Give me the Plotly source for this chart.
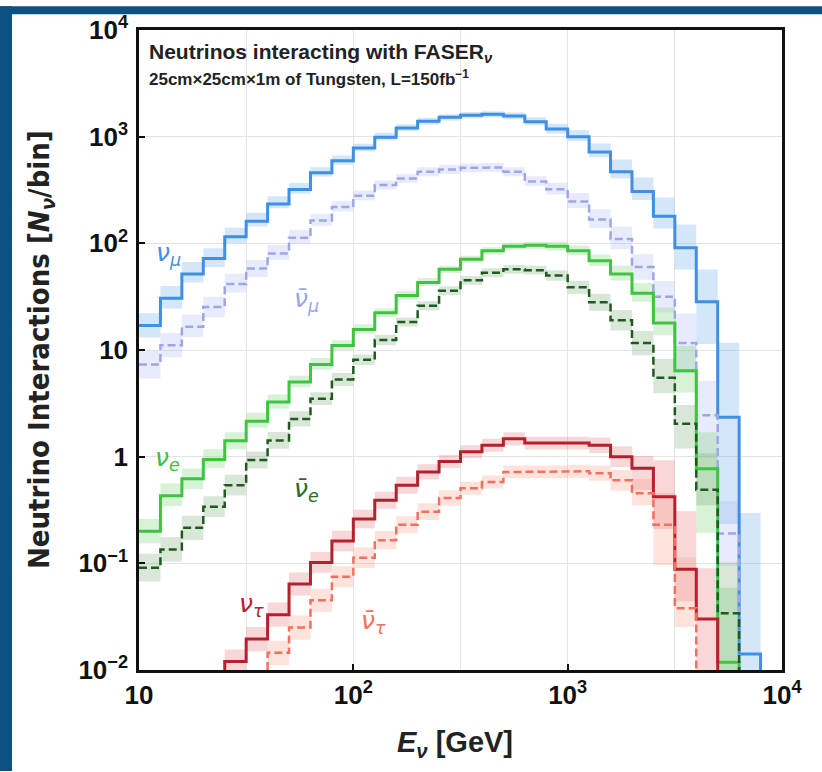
import plotly.graph_objects as go

# ---------------- data ----------------
# log-spaced energy bins: 10 per decade from 10 GeV to 10^4 GeV
bin_edges = [10 ** (1 + k / 10) for k in range(31)]

nu_mu = [17, 30.6, 51.5, 72, 115, 161, 234, 320, 458, 593,
         782, 988, 1208, 1394, 1517, 1590, 1620, 1560, 1380, 1180,
         1000, 718, 469, 306, 179, 91, 28.4, 2.34, 0.0141, None]
nu_mu_up = [1.3, 1.3, 1.3, 1.25, 1.22, 1.2, 1.18, 1.15, 1.13, 1.12,
            1.1, 1.1, 1.08, 1.08, 1.07, 1.07, 1.07, 1.08, 1.1, 1.12,
            1.15, 1.2, 1.3, 1.35, 1.5, 1.65, 2.0, 5.0, 21, None]
nu_mu_dn = [1.3, 1.25, 1.2, 1.2, 1.15, 1.12, 1.1, 1.1, 1.08, 1.08,
            1.07, 1.07, 1.07, 1.07, 1.07, 1.07, 1.07, 1.07, 1.08, 1.1,
            1.1, 1.12, 1.15, 1.2, 1.3, 1.6, 2.5, 10, 2, None]

nubar_mu = [7.3, 11.1, 16.5, 25.3, 41.6, 58, 80.5, 113, 164, 219,
            279, 352, 406, 469, 492, 510, 515, 469, 379, 321,
            247, 167, 110, 60, 31.6, 11.6, 2.44, 0.19, None, None]
nubar_mu_up = [1.35, 1.3, 1.3, 1.25, 1.25, 1.2, 1.2, 1.18, 1.15, 1.13,
               1.12, 1.1, 1.1, 1.1, 1.1, 1.1, 1.1, 1.1, 1.12, 1.15,
               1.2, 1.25, 1.3, 1.32, 1.4, 1.9, 2.1, 2.0, None, None]
nubar_mu_dn = [1.35, 1.3, 1.25, 1.25, 1.2, 1.2, 1.15, 1.15, 1.12, 1.1,
               1.1, 1.1, 1.1, 1.1, 1.1, 1.1, 1.1, 1.1, 1.1, 1.12,
               1.15, 1.2, 1.25, 1.32, 1.4, 1.9, 2.5, 2.0, None, None]

nu_e = [0.20, 0.43, 0.62, 0.94, 1.41, 2.15, 3.25, 5.0, 7.3, 11.0,
        15.6, 22.4, 32.5, 43, 57, 71, 85, 94, 96, 94,
        85, 68.5, 51.5, 34, 17.9, 6.4, 0.77, 0.0118, None, None]
nu_e_up = [1.3, 1.3, 1.25, 1.25, 1.2, 1.2, 1.18, 1.15, 1.15, 1.12,
           1.12, 1.1, 1.1, 1.1, 1.08, 1.08, 1.08, 1.08, 1.08, 1.1,
           1.12, 1.15, 1.2, 1.25, 1.4, 1.7, 2.2, 5, None, None]
nu_e_dn = [1.3, 1.25, 1.25, 1.2, 1.2, 1.15, 1.15, 1.12, 1.12, 1.1,
           1.1, 1.1, 1.1, 1.08, 1.08, 1.08, 1.08, 1.08, 1.08, 1.1,
           1.1, 1.12, 1.15, 1.2, 1.3, 1.6, 4.0, 2, None, None]

nubar_e = [0.091, 0.135, 0.215, 0.34, 0.54, 0.93, 1.42, 2.26, 3.5, 5.3,
           8.1, 12.4, 18.3, 26, 36, 45, 53, 57, 56, 50,
           38.7, 28, 19, 11.6, 5.5, 2.03, 0.49, 0.034, None, None]
nubar_e_up = [1.35, 1.3, 1.3, 1.25, 1.25, 1.2, 1.2, 1.18, 1.15, 1.15,
              1.12, 1.12, 1.1, 1.1, 1.1, 1.1, 1.1, 1.1, 1.1, 1.12,
              1.15, 1.2, 1.25, 1.3, 1.5, 1.5, 2.2, 3, None, None]
nubar_e_dn = [1.35, 1.3, 1.3, 1.25, 1.25, 1.2, 1.2, 1.18, 1.15, 1.15,
              1.12, 1.12, 1.1, 1.1, 1.1, 1.1, 1.1, 1.1, 1.1, 1.12,
              1.15, 1.2, 1.25, 1.3, 1.4, 1.7, 1.4, 3.4, None, None]

nu_tau = [None, None, None, None, 0.012, 0.0195, 0.033, 0.064, 0.102, 0.162,
          0.26, 0.39, 0.54, 0.72, 0.9, 1.11, 1.28, 1.47, 1.34, 1.34,
          1.34, 1.28, 1.0, 0.78, 0.42, 0.088, 0.030, None, None, None]
nu_tau_up = [None, None, None, None, 1.3, 1.3, 1.3, 1.28, 1.25, 1.25,
             1.22, 1.2, 1.2, 1.18, 1.15, 1.15, 1.15, 1.15, 1.15, 1.15,
             1.15, 1.18, 1.25, 1.3, 2.2, 3.5, 3.0, None, None, None]
nu_tau_dn = [None, None, None, None, 1.3, 1.3, 1.3, 1.28, 1.25, 1.25,
             1.22, 1.2, 1.2, 1.18, 1.15, 1.15, 1.15, 1.15, 1.15, 1.15,
             1.15, 1.18, 1.25, 1.6, 2.0, 2.0, 3.0, None, None, None]

nubar_tau = [None, None, None, None, None, None, 0.0145, 0.025, 0.045, 0.075,
             0.113, 0.165, 0.23, 0.305, 0.41, 0.506, 0.58, 0.72, 0.72, 0.72,
             0.73, 0.70, 0.60, 0.455, 0.23, 0.038, None, None, None, None]
nubar_tau_up = [None, None, None, None, None, None, 1.3, 1.3, 1.28, 1.25,
                1.25, 1.22, 1.2, 1.2, 1.18, 1.15, 1.15, 1.15, 1.15, 1.15,
                1.15, 1.18, 1.25, 1.35, 2.0, 3.0, None, None, None, None]
nubar_tau_dn = [None, None, None, None, None, None, 1.3, 1.3, 1.28, 1.25,
                1.25, 1.22, 1.2, 1.2, 1.18, 1.15, 1.15, 1.15, 1.15, 1.15,
                1.15, 1.18, 1.25, 1.3, 2.4, 1.5, None, None, None, None]

x_tick_vals = [10, 100, 1000, 10000]
x_tick_text = ["10", "10<sup>2</sup>", "10<sup>3</sup>", "10<sup>4</sup>"]
x_minor_vals = [10 ** 1.5, 10 ** 2.5, 10 ** 3.5]
y_tick_vals = [1e-2, 1e-1, 1, 10, 100, 1000, 10000]
y_tick_text = ["10<sup>−2</sup>", "10<sup>−1</sup>", "1", "10",
               "10<sup>2</sup>", "10<sup>3</sup>", "10<sup>4</sup>"]
Y_MIN, Y_MAX = -2, 4   # log10 axis range
X_MIN, X_MAX = 1, 4

# ---------------- styling ----------------
series = [
    # name, values, up, dn, line colour, band colour, dash, width
    ("numu", nu_mu, nu_mu_up, nu_mu_dn, "#3f8fe3", "rgba(120,180,240,0.33)", "solid", 3),
    ("numubar", nubar_mu, nubar_mu_up, nubar_mu_dn, "#9ea6e6", "rgba(170,180,240,0.27)", "8px,4px", 2.5),
    ("nue", nu_e, nu_e_up, nu_e_dn, "#3fc43f", "rgba(110,210,110,0.28)", "solid", 3),
    ("nuebar", nubar_e, nubar_e_up, nubar_e_dn, "#1f5a1f", "rgba(120,170,120,0.28)", "8px,4px", 2.5),
    ("nutau", nu_tau, nu_tau_up, nu_tau_dn, "#b5202e", "rgba(225,110,110,0.28)", "solid", 3),
    ("nutaubar", nubar_tau, nubar_tau_up, nubar_tau_dn, "#f2705f", "rgba(250,150,130,0.27)", "8px,4px", 2.5),
]

W, H = 822, 772
L, R, T, B = 139, 40, 24, 102
BG_BLUE = "#0b5283"
pw, ph = W - L - R, H - T - B

fig = go.Figure()

# uncertainty bands (one rectangle per bin)
for name, vals, up, dn, lc, bc, dash, w in series:
    bx, by = [], []
    for i, v in enumerate(vals):
        if v is None or up[i] is None:
            continue
        lo, hi = v / dn[i], v * up[i]
        l, r = bin_edges[i], bin_edges[i + 1]
        bx += [l, r, r, l, l, None]
        by += [lo, lo, hi, hi, lo, None]
    fig.add_trace(go.Scatter(x=bx, y=by, mode="lines", fill="toself",
                             fillcolor=bc, line=dict(width=0),
                             hoverinfo="skip", showlegend=False))

# step histograms
floor = 10 ** Y_MIN
for name, vals, up, dn, lc, bc, dash, w in series:
    sx, sy = [], []
    for i, v in enumerate(vals):
        if v is None:
            if sx and sx[-1] is not None:
                sx.append(bin_edges[i]); sy.append(floor)
                sx.append(None); sy.append(None)
            continue
        if (not sx or sx[-1] is None) and i > 0:
            sx.append(bin_edges[i]); sy.append(floor)
        sx += [bin_edges[i], bin_edges[i + 1]]
        sy += [v, v]
    fig.add_trace(go.Scatter(x=sx, y=sy, mode="lines",
                             line=dict(color=lc, width=w, dash=dash),
                             hoverinfo="skip", showlegend=False))

# page background: white sheet with dark slide frame strips on the left and top
fig.add_shape(type="rect", xref="paper", yref="paper", layer="below",
              x0=(0 - L) / pw, x1=(W + 20 - L) / pw,
              y0=(H - B - H - 20) / ph, y1=(H - B) / ph,
              fillcolor="white", line=dict(width=0))
fig.add_shape(type="rect", xref="paper", yref="paper", layer="below",
              x0=(0 - L) / pw, x1=(12 - L) / pw,
              y0=(H - B - H) / ph, y1=(H - B) / ph,
              fillcolor=BG_BLUE, line=dict(width=0))
fig.add_shape(type="rect", xref="paper", yref="paper", layer="below",
              x0=(0 - L) / pw, x1=(W - L) / pw,
              y0=(H - B - 8) / ph, y1=(H - B) / ph,
              fillcolor=BG_BLUE, line=dict(width=0))

font_main = "Liberation Sans, Arial, sans-serif"
font_lab = "DejaVu Sans, Liberation Sans, sans-serif"

# curve labels
labels = [
    ("ν<sub>μ</sub>", 1.136, 1.90, "#4a8fdc"),
    ("ν̄<sub>μ</sub>", 1.78, 1.465, "#9ea6e6"),
    ("ν<sub>e</sub>", 1.131, -0.02, "#3fbf3f"),
    ("ν̄<sub>e</sub>", 1.78, -0.308, "#2a6a2a"),
    ("ν<sub>τ</sub>", 1.523, -1.394, "#b5202e"),
    ("ν̄<sub>τ</sub>", 2.093, -1.552, "#f2705f"),
]
for txt, lx, ly, c in labels:
    fig.add_annotation(x=lx, y=ly, xref="x", yref="y", text=f"<i>{txt}</i>",
                       showarrow=False, font=dict(size=25, color=c, family=font_lab),
                       xanchor="center", yanchor="middle")

# in-plot title
fig.add_annotation(xref="paper", yref="paper", x=(147 - L) / pw, y=(H - B - 47) / ph,
                   text="<b>Neutrinos interacting with FASER<sub><i>ν</i></sub></b>",
                   showarrow=False, xanchor="left", yanchor="middle",
                   font=dict(size=21, color="#222", family=font_main))
fig.add_annotation(xref="paper", yref="paper", x=(147 - L) / pw, y=(H - B - 72) / ph,
                   text="<b>25cm×25cm×1m of Tungsten, L=150fb<sup>−1</sup></b>",
                   showarrow=False, xanchor="left", yanchor="middle",
                   font=dict(size=17, color="#222", family=font_main))

# axis titles
fig.add_annotation(xref="paper", yref="paper", x=(41 - L) / pw, y=0.5,
                   text="<b>Neutrino Interactions [<i>N</i><sub><i>ν</i></sub>/bin]</b>",
                   textangle=-90, showarrow=False, xanchor="center", yanchor="middle",
                   font=dict(size=29, color="#222",
                             family="DejaVu Sans Condensed, " + font_main))
fig.add_annotation(xref="paper", yref="paper", x=(455 - L) / pw, y=(H - B - 745) / ph,
                   text="<b><i>E</i><sub><i>ν</i></sub> [GeV]</b>",
                   showarrow=False, xanchor="center", yanchor="middle",
                   font=dict(size=29, color="#222", family=font_main))

axis_common = dict(showline=True, linewidth=2.5, linecolor="#111", mirror=True,
                   ticks="inside", ticklen=6, tickwidth=2, tickcolor="#111",
                   showgrid=True, gridcolor="#e4e4e4", gridwidth=1, zeroline=False,
                   tickfont=dict(size=26, color="#111", family=font_main))

fig.update_xaxes(type="log", range=[X_MIN, X_MAX], tickmode="array",
                 tickvals=x_tick_vals, ticktext=[f"<b>{t}</b>" for t in x_tick_text],
                 minor=dict(tickmode="array", tickvals=x_minor_vals, showgrid=True,
                            gridcolor="#e4e4e4", gridwidth=1, ticks=""),
                 **axis_common)
fig.update_yaxes(type="log", range=[Y_MIN, Y_MAX], tickmode="array",
                 tickvals=y_tick_vals, ticktext=[f"<b>{t}</b>" for t in y_tick_text],
                 ticklabelstandoff=3, **axis_common)

fig.update_layout(width=W, height=H, margin=dict(l=L, r=R, t=T, b=B),
                  paper_bgcolor="#fefefe", plot_bgcolor="white",
                  font=dict(family=font_main), showlegend=False)

fig.write_html("out.html", config={"displayModeBar": False},
               post_script="document.body.style.margin='0px';"
                           "document.body.style.overflow='hidden';"
                           "document.documentElement.style.overflow='hidden';"
                           "document.body.style.background='white';"
                           "document.documentElement.style.background='white';")
